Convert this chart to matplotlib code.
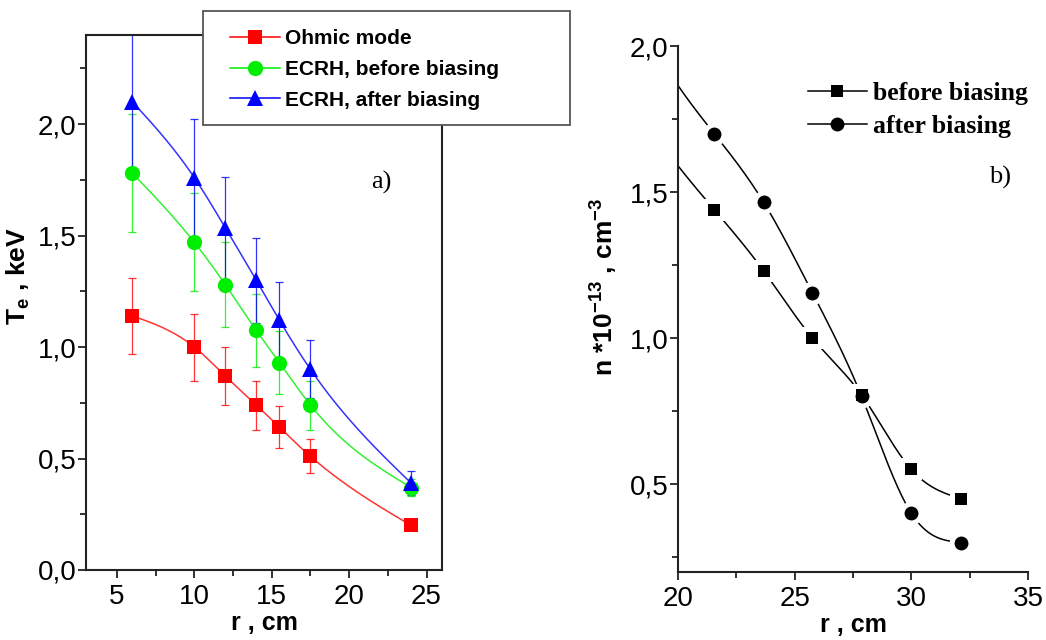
import numpy as np
import matplotlib
matplotlib.use("Agg")
import matplotlib.pyplot as plt
from matplotlib.ticker import MultipleLocator, FuncFormatter
from matplotlib.lines import Line2D
from matplotlib.patches import Rectangle

# === DATA ===
# a) electron temperature profiles
r_a = [6, 10, 12, 14, 15.5, 17.5, 24]
te_ohmic = [1.14, 1.00, 0.87, 0.74, 0.64, 0.51, 0.20]
te_ohmic_err = [0.17, 0.15, 0.13, 0.11, 0.095, 0.077, 0.02]
te_before = [1.78, 1.47, 1.28, 1.075, 0.93, 0.74, 0.37]
te_before_err = [0.265, 0.22, 0.19, 0.165, 0.14, 0.11, 0.04]
te_after = [2.10, 1.76, 1.535, 1.30, 1.12, 0.90, 0.39]
te_after_err = [0.31, 0.265, 0.23, 0.19, 0.17, 0.13, 0.055]

# b) density profiles
r_b = [21.55, 23.67, 25.76, 27.87, 30.0, 32.13]
n_before = [1.44, 1.23, 1.00, 0.805, 0.55, 0.45]
n_after = [1.70, 1.465, 1.155, 0.80, 0.40, 0.30]

RED, GREEN, BLUE = "#ff0000", "#00ee00", "#0000ff"


def spline(x, y, xs):
    # natural cubic spline, first/last segment continued outside the data
    x = np.asarray(x, float)
    y = np.asarray(y, float)
    n = len(x)
    h = np.diff(x)
    A = np.zeros((n, n))
    b = np.zeros(n)
    A[0, 0] = A[-1, -1] = 1
    for i in range(1, n - 1):
        A[i, i - 1] = h[i - 1]
        A[i, i] = 2 * (h[i - 1] + h[i])
        A[i, i + 1] = h[i]
        b[i] = 3 * ((y[i + 1] - y[i]) / h[i] - (y[i] - y[i - 1]) / h[i - 1])
    c = np.linalg.solve(A, b)
    bc = (y[1:] - y[:-1]) / h - h * (2 * c[:-1] + c[1:]) / 3
    d = (c[1:] - c[:-1]) / (3 * h)
    idx = np.clip(np.searchsorted(x, xs) - 1, 0, n - 2)
    dx = xs - x[idx]
    return y[idx] + bc[idx] * dx + c[idx] * dx ** 2 + d[idx] * dx ** 3


comma = FuncFormatter(lambda v, p: f"{v:.1f}".replace(".", ","))
whole = FuncFormatter(lambda v, p: f"{v:.0f}")

plt.rcParams["font.family"] = ["Liberation Sans", "DejaVu Sans"]
plt.rcParams["mathtext.fontset"] = "custom"
plt.rcParams["mathtext.rm"] = "Liberation Sans"
plt.rcParams["mathtext.bf"] = "Liberation Sans:bold"

fig = plt.figure(figsize=(10.46, 6.4), dpi=100)
ax1 = fig.add_axes([0.0822, 0.1094, 0.3404, 0.8359])
ax2 = fig.add_axes([0.6482, 0.1067, 0.3346, 0.8214])


def style_axes(ax):
    for s in ax.spines.values():
        s.set_linewidth(1.5)
        s.set_color("#222222")
    ax.tick_params(which="both", direction="out", width=1.3, color="#222222",
                   labelsize=20, top=False, right=False)
    ax.tick_params(which="major", length=6)
    ax.tick_params(which="minor", length=4)
    ax.tick_params(axis="y", pad=1)
    ax.tick_params(axis="x", pad=4)
    ax.yaxis.set_major_formatter(comma)
    ax.xaxis.set_major_formatter(whole)


# === PANEL a) ===
xs = np.linspace(r_a[0], r_a[-1], 300)
series = [
    (te_ohmic, te_ohmic_err, RED, "s", 10, "Ohmic mode"),
    (te_before, te_before_err, GREEN, "o", 11, "ECRH, before biasing"),
    (te_after, te_after_err, BLUE, "^", 12, "ECRH, after biasing"),
]
handles = []
for vals, err, col, mk, ms, lab in series:
    ax1.plot(xs, spline(r_a, vals, xs), color=col, lw=1.1, alpha=0.8, zorder=2)
    ax1.errorbar(r_a, vals, yerr=err, fmt="none", ecolor=col, elinewidth=0.9,
                 capsize=3, capthick=0.9, alpha=0.8, zorder=2)
    ax1.plot(r_a, vals, linestyle="none", marker=mk, ms=ms, color=col,
             markeredgewidth=0, zorder=3)
    handles.append(Line2D([], [], color=col, lw=1.1, marker=mk, ms=ms,
                          markeredgewidth=0, label=lab))

ax1.set_xlim(3, 26)
ax1.set_ylim(0, 2.4)
ax1.xaxis.set_major_locator(MultipleLocator(5))
ax1.xaxis.set_minor_locator(MultipleLocator(2.5))
ax1.yaxis.set_major_locator(MultipleLocator(0.5))
ax1.yaxis.set_minor_locator(MultipleLocator(0.25))
style_axes(ax1)
ax1.set_xlabel("r , cm", fontsize=18, fontweight="bold", labelpad=1)
ax1.set_ylabel(r"$\mathbf{T_e}$ , keV", fontsize=19, fontweight="bold")
ax1.yaxis.set_label_coords(-0.152, 0.55)
ax1.text(0.83, 0.725, "a)", transform=ax1.transAxes, fontsize=19,
         family="Liberation Serif", ha="center", va="center")

# legend box of panel a) sits over the top of the axes frame
fig.add_artist(Rectangle((0.1941, 0.8047), 0.3509, 0.178,
                         transform=fig.transFigure, facecolor="white",
                         edgecolor="#555555", linewidth=1.3, zorder=4))
fig.legend(handles=handles, loc="upper left",
           bbox_to_anchor=(0.2199, 0.954), frameon=False,
           prop={"weight": "bold", "size": 15},
           handlelength=2.4, handletextpad=0.25, labelspacing=0.56,
           borderpad=0, borderaxespad=0)

# === PANEL b) ===
xs_b = np.linspace(20, r_b[-1], 300)
for vals, mk, ms, lab in [(n_before, "s", 9, "before biasing"),
                          (n_after, "o", 10, "after biasing")]:
    ax2.plot(xs_b, spline(r_b, vals, xs_b), color="black", lw=1.1, zorder=2,
             clip_on=False)
    ax2.plot(r_b, vals, linestyle="none", marker=mk, ms=ms + 7, color="white",
             markeredgewidth=0, zorder=3)
    ax2.plot(r_b, vals, linestyle="none", marker=mk, ms=ms, color="black",
             markeredgewidth=0, zorder=4, label=lab)

ax2.set_xlim(20, 35)
ax2.set_ylim(0.2, 2.0)
ax2.spines["top"].set_visible(False)
ax2.spines["right"].set_visible(False)
ax2.xaxis.set_major_locator(MultipleLocator(5))
ax2.xaxis.set_minor_locator(MultipleLocator(2.5))
ax2.yaxis.set_major_locator(MultipleLocator(0.5))
ax2.yaxis.set_minor_locator(MultipleLocator(0.25))
style_axes(ax2)
ax2.set_xlabel("r , cm", fontsize=18, fontweight="bold", labelpad=1)
ax2.set_ylabel(r"n *10$^{\mathregular{-13}}$ , cm$^{\mathregular{-3}}$",
               fontsize=19, fontweight="bold")
ax2.yaxis.set_label_coords(-0.17, 0.542)
ax2.text(0.92, 0.75, "b)", transform=ax2.transAxes, fontsize=19,
         family="Liberation Serif", ha="center", va="center")

leg_handles = [Line2D([], [], color="black", lw=1.1, marker="s", ms=9, markeredgewidth=0),
               Line2D([], [], color="black", lw=1.1, marker="o", ms=10, markeredgewidth=0)]
ax2.legend(leg_handles, ["before biasing", "after biasing"], loc="upper left",
           bbox_to_anchor=(0.37, 0.932), frameon=False,
           prop={"family": "Liberation Serif", "weight": "bold", "size": 18.5},
           handlelength=2.3, handletextpad=0.25, labelspacing=0.4,
           borderaxespad=0, borderpad=0)

fig.savefig("out.png", dpi=100)
